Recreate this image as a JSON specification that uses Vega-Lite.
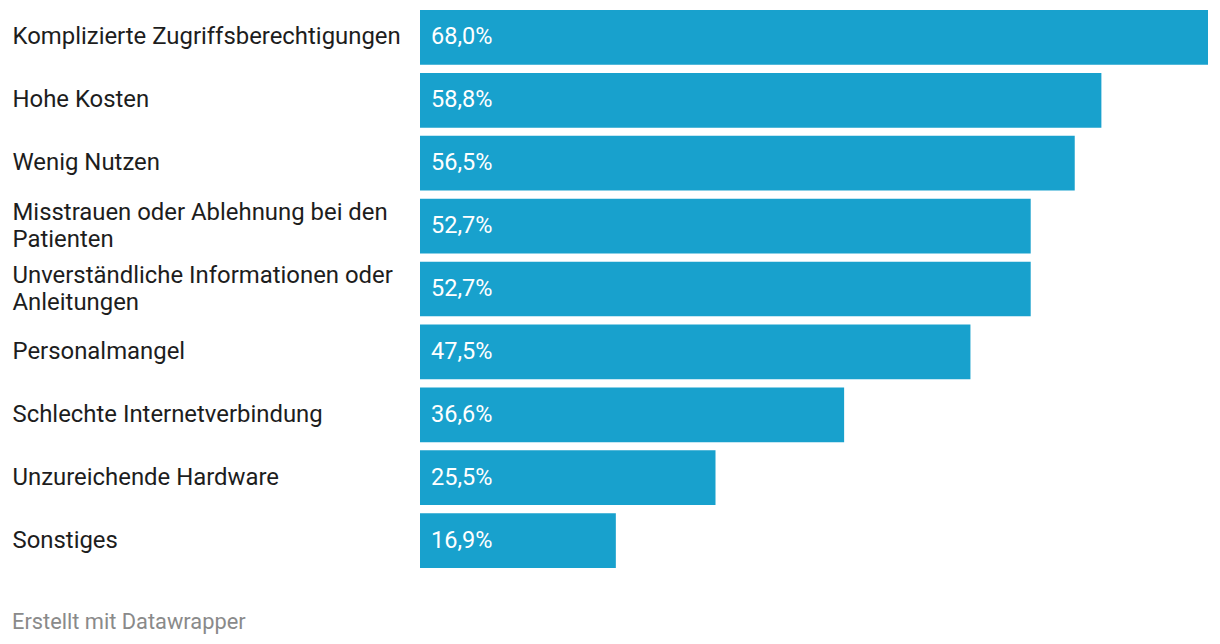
{
  "$schema": "https://vega.github.io/schema/vega-lite/v6.json",
  "width": 788,
  "height": 558,
  "padding": {"left": 12, "top": 10, "right": 12, "bottom": 10},
  "background": "white",
  "config": {"view": {"stroke": null}, "font": "Roboto"},
  "title": {
    "text": "Erstellt mit Datawrapper",
    "orient": "bottom",
    "anchor": "start",
    "frame": "bounds",
    "font": "Roboto",
    "fontSize": 21.8,
    "fontWeight": "normal",
    "color": "#8a8a8a",
    "offset": 44
  },
  "data": {
    "values": [
      {"cat": "Komplizierte Zugriffsberechtigungen", "value": 68.0, "label": "68,0%"},
      {"cat": "Hohe Kosten", "value": 58.8, "label": "58,8%"},
      {"cat": "Wenig Nutzen", "value": 56.5, "label": "56,5%"},
      {"cat": "Misstrauen oder Ablehnung bei den|Patienten", "value": 52.7, "label": "52,7%"},
      {"cat": "Unverständliche Informationen oder|Anleitungen", "value": 52.7, "label": "52,7%"},
      {"cat": "Personalmangel", "value": 47.5, "label": "47,5%"},
      {"cat": "Schlechte Internetverbindung", "value": 36.6, "label": "36,6%"},
      {"cat": "Unzureichende Hardware", "value": 25.5, "label": "25,5%"},
      {"cat": "Sonstiges", "value": 16.9, "label": "16,9%"}
    ]
  },
  "encoding": {
    "y": {
      "field": "cat",
      "type": "nominal",
      "sort": null,
      "scale": {"paddingInner": 0.13, "paddingOuter": 0},
      "axis": {
        "title": null,
        "domain": false,
        "ticks": false,
        "labelAlign": "left",
        "labelPadding": 408,
        "labelFont": "Roboto",
        "labelFontSize": 23.9,
        "labelColor": "#1d1d1d",
        "labelLimit": 0,
        "labelLineHeight": 27,
        "labelOffset": {"condition": {"test": "indexof(datum.value, '|') >= 0", "value": -13.5}, "value": 0},
        "labelExpr": "split(datum.value, '|')"
      }
    }
  },
  "layer": [
    {
      "mark": {"type": "bar", "color": "#18a1cd"},
      "encoding": {
        "x": {
          "field": "value",
          "type": "quantitative",
          "scale": {"domain": [0, 68], "nice": false},
          "axis": null
        }
      }
    },
    {
      "mark": {"type": "text", "align": "left", "baseline": "middle", "dx": 11, "color": "white", "font": "Roboto", "fontSize": 23.5},
      "encoding": {
        "x": {"datum": 0, "type": "quantitative"},
        "text": {"field": "label"}
      }
    }
  ]
}
